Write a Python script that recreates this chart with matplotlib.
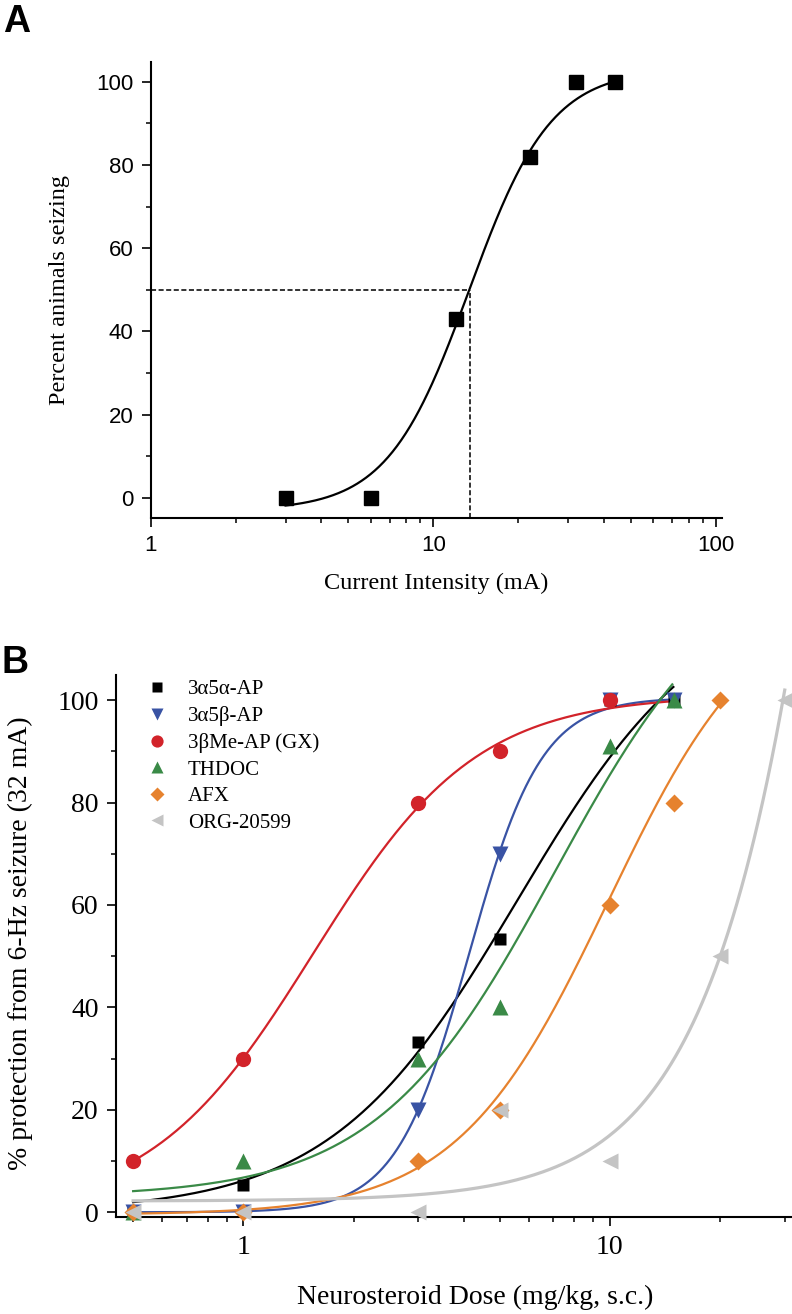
import numpy as np
import matplotlib
matplotlib.use('Agg')
import matplotlib.pyplot as plt
from matplotlib.ticker import MultipleLocator, LogLocator, FuncFormatter, NullFormatter
from matplotlib.lines import Line2D

plt.rcParams['font.family'] = ['Liberation Serif', 'DejaVu Serif']

# ---- panel A data ----
current_ma = [3, 6, 12, 22, 32, 44]
pct_seizing = [0, 0, 43, 82, 100, 100]
fit_a = (-3, 103, 13.4, 3.0)      # bottom, top, ec50, hill
fit_a_range = (3, 44)
cc50 = 13.5

# ---- panel B data ----
names = ['3\u03b15\u03b1-AP', '3\u03b15\u03b2-AP', '3\u03b2Me-AP (GX)', 'THDOC', 'AFX', 'ORG-20599']
doses = [
    [0.5, 1, 3, 5, 10, 15],
    [0.5, 1, 3, 5, 10, 15],
    [0.5, 1, 3, 5, 10],
    [0.5, 1, 3, 5, 10, 15],
    [0.5, 1, 3, 5, 10, 15, 20],
    [0.5, 1, 3, 5, 10, 20, 30],
]
protection = [
    [0, 5.3, 33.3, 53.3, 100, 100],
    [0, 0, 20, 70, 100, 100],
    [10, 30, 80, 90, 100],
    [0, 10, 30, 40, 91, 100],
    [0, 0, 10, 20, 60, 80, 100],
    [0, 0, 0, 20, 10, 50, 100],
]
# fitted curves: bottom, top, ec50, hill, dose range
fits = [
    (0, 122, 5.6, 1.7, 0.5, 14.9),
    (0, 100.5, 4.12, 4.37, 0.5, 15),
    (0, 101, 1.55, 1.95, 0.5, 15),
    (3, 130, 7.08, 1.78, 0.5, 14.8),
    (-0.5, 122, 9.9, 2.1, 0.5, 20),
    (2.2, 1002.2, 92.7, 1.95, 0.5, 30),
]
colors = ['#000000', '#3953a4', '#d2232a', '#3a8a47', '#e6822e', '#c4c4c4']
markers = ['s', 'v', 'o', '^', 'D', '<']
msizes = [9, 11, 11, 11, 9, 11]
lwidths = [1.6, 1.6, 1.6, 1.6, 1.6, 2.3]

W, H = 792, 1314
fig = plt.figure(figsize=(W / 100, H / 100), dpi=100)


def px_axes(l, t, r, b):
    return fig.add_axes([l / W, 1 - b / H, (r - l) / W, (b - t) / H])


def hill(x, bottom, top, ec50, n):
    return bottom + (top - bottom) / (1 + (ec50 / x) ** n)


def style_axes(ax, labfont, labsize, pad):
    for s in ['top', 'right']:
        ax.spines[s].set_visible(False)
    for s in ['left', 'bottom']:
        ax.spines[s].set_linewidth(1.5)
    ax.tick_params(which='major', direction='out', length=6.5, width=1.2,
                   labelsize=labsize, pad=pad)
    ax.tick_params(which='minor', direction='out', length=3.6, width=1.1)
    ax.yaxis.set_major_locator(MultipleLocator(20))
    ax.yaxis.set_minor_locator(MultipleLocator(10))
    ax.xaxis.set_major_locator(LogLocator(base=10))
    ax.xaxis.set_minor_locator(LogLocator(base=10, subs=np.arange(2, 10)))
    ax.xaxis.set_major_formatter(FuncFormatter(lambda v, p: f'{v:g}'))
    ax.xaxis.set_minor_formatter(NullFormatter())
    for t in ax.get_xticklabels() + ax.get_yticklabels():
        t.set_fontfamily(labfont)


# ---------------- panel A ----------------
axA = px_axes(150.7, 61.7, 722, 517.5)
axA.set_xscale('log')
axA.set_xlim(1, 105)
axA.set_ylim(-4.7, 104.8)
xs = np.geomspace(*fit_a_range, 300)
axA.plot(xs, hill(xs, *fit_a), color='k', lw=1.6, zorder=3)
axA.plot(current_ma, pct_seizing, 's', color='k', ms=9.5, zorder=4)
axA.plot([1, cc50], [50, 50], ls=(0, (2.6, 1.3)), color='#333333', lw=1.4)
axA.plot([cc50, cc50], [-4.7, 50], ls=(0, (2.6, 1.3)), color='#333333', lw=1.4)
style_axes(axA, ['Liberation Sans', 'DejaVu Sans'], 16, 6)

fig.text(436.5 / W, 1 - 583 / H, 'Current Intensity (mA)', ha='center', va='center', fontsize=17.5)
fig.text(60 / W, 1 - 290 / H, 'Percent animals seizing', ha='center', va='center',
         rotation=90, fontsize=17.5)
fig.text(3 / W, 1 - 32 / H, 'A', ha='left', va='baseline', fontsize=27, fontweight='bold',
         family=['Liberation Sans', 'DejaVu Sans'])

# ---------------- panel B ----------------
axB = px_axes(116, 675, 792, 1217.3)
axB.set_xscale('log')
axB.set_xlim(0.449, 31.4)
axB.set_ylim(-0.98, 104.9)
for i in range(len(names)):
    b, t, ec, n, x0, x1 = fits[i]
    xs = np.geomspace(x0, x1, 300)
    axB.plot(xs, hill(xs, b, t, ec, n), color=colors[i], lw=lwidths[i], zorder=2 + i * 0.01)
for i in range(len(names)):
    axB.plot(doses[i], protection[i], markers[i], color=colors[i], ms=msizes[i],
             mec='none', zorder=4 + i * 0.01, clip_on=False)
style_axes(axB, ['Liberation Serif', 'DejaVu Serif'], 20, 6)

handles = [Line2D([], [], ls='none', marker=markers[i], color=colors[i],
                  ms=msizes[i] * 0.8, mec='none') for i in range(len(names))]
leg = axB.legend(handles, names, loc='upper left', bbox_to_anchor=(0.0448, 0.991),
                 frameon=False, fontsize=15, borderaxespad=0, borderpad=0,
                 handlelength=1.0, handletextpad=1.0, labelspacing=0.33, numpoints=1)

fig.text(475 / W, 1 - 1297 / H, 'Neurosteroid Dose (mg/kg, s.c.)', ha='center', va='center',
         fontsize=20)
fig.text(20 / W, 1 - 943.5 / H, '% protection from 6-Hz seizure (32 mA)', ha='center',
         va='center', rotation=90, fontsize=20)
fig.text(2 / W, 1 - 673 / H, 'B', ha='left', va='baseline', fontsize=27, fontweight='bold',
         family=['Liberation Sans', 'DejaVu Sans'])

fig.savefig('out.png', dpi=100)
